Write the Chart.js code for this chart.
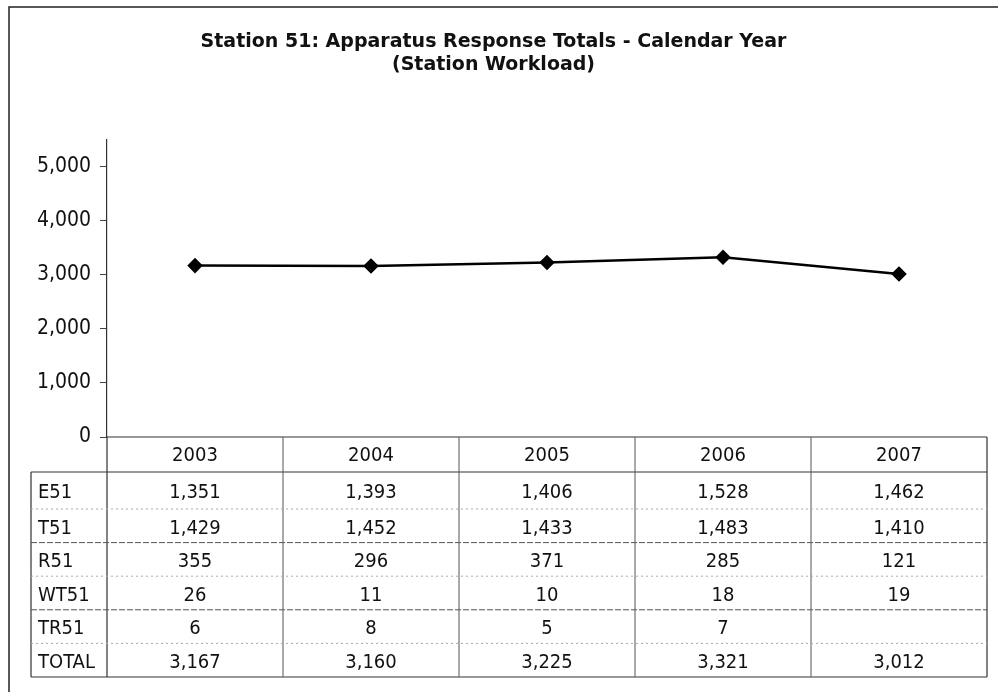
<!DOCTYPE html>
<html>
<head>
<meta charset="utf-8">
<title>Station 51 Apparatus Response Totals</title>
<script src="https://cdn.jsdelivr.net/npm/chart.js@4"></script>
<style>
    html, body { margin: 0; padding: 0; background: #fff; }
    #wrap { width: 998px; height: 692px; }
</style>
</head>
<body>
<div id="wrap"><canvas id="stationChart" width="998" height="692"></canvas></div>
<script>
const years = ['2003', '2004', '2005', '2006', '2007'];
const rowLabels = ['E51', 'T51', 'R51', 'WT51', 'TR51', 'TOTAL'];
const e51 = [1351, 1393, 1406, 1528, 1462];
const t51 = [1429, 1452, 1433, 1483, 1410];
const r51 = [355, 296, 371, 285, 121];
const wt51 = [26, 11, 10, 18, 19];
const tr51 = [6, 8, 5, 7, null];
const totals = [3167, 3160, 3225, 3321, 3012];
const yTicks = [0, 1000, 2000, 3000, 4000, 5000];
const yMax = 5500;

const tableRows = [e51, t51, r51, wt51, tr51, totals];
const FONT = '"DejaVu Sans Condensed", "Liberation Sans", sans-serif';
const TITLE_FONT = '"DejaVu Sans", sans-serif';

function fmt(v) {
    return v === null ? '' : v.toLocaleString('en-US');
}

// frame around the chart (left + top edges visible in the scan)
const framePlugin = {
    id: 'frame',
    beforeDraw(chart) {
        const ctx = chart.ctx;
        ctx.save();
        ctx.fillStyle = '#fff';
        ctx.fillRect(0, 0, chart.width, chart.height);
        ctx.strokeStyle = '#222';
        ctx.lineWidth = 1.5;
        ctx.beginPath();
        ctx.moveTo(9, chart.height);
        ctx.lineTo(9, 7);
        ctx.lineTo(chart.width, 7);
        ctx.stroke();
        ctx.restore();
    }
};

// data table under the plot, columns follow the x scale
const tablePlugin = {
    id: 'dataTable',
    afterDraw(chart) {
        const ctx = chart.ctx;
        const x = chart.scales.x;
        const area = chart.chartArea;
        const colW = x.getPixelForValue(1) - x.getPixelForValue(0);
        const left = area.left;
        const right = area.right;
        const labelLeft = 31;
        const headTop = area.bottom;
        const headH = 35;
        const bodyTop = headTop + headH;
        const firstRowH = 37;
        const rowH = 33.6;
        const rowTop = r => (r === 0 ? bodyTop : bodyTop + firstRowH + (r - 1) * rowH);
        const bodyBottom = rowTop(rowLabels.length);

        ctx.save();
        ctx.strokeStyle = '#333';
        ctx.lineWidth = 1.2;

        // header top (the x axis) and body box
        ctx.beginPath();
        ctx.moveTo(left, headTop); ctx.lineTo(right, headTop);
        ctx.moveTo(labelLeft, bodyTop); ctx.lineTo(right, bodyTop);
        ctx.moveTo(labelLeft, bodyBottom); ctx.lineTo(right, bodyBottom);
        ctx.moveTo(labelLeft, bodyTop); ctx.lineTo(labelLeft, bodyBottom);
        ctx.moveTo(right, headTop); ctx.lineTo(right, bodyBottom);
        ctx.moveTo(left, headTop); ctx.lineTo(left, bodyBottom);
        ctx.stroke();

        // column separators
        ctx.strokeStyle = '#555';
        ctx.lineWidth = 1;
        for (let i = 1; i < years.length; i++) {
            const cx = x.getPixelForValue(i) - colW / 2;
            ctx.beginPath();
            ctx.moveTo(cx, headTop);
            ctx.lineTo(cx, bodyBottom);
            ctx.stroke();
        }

        // row separators, darker between pairs
        for (let r = 1; r < rowLabels.length; r++) {
            const ry = rowTop(r);
            if (r % 2 === 0) {
                ctx.strokeStyle = '#555';
                ctx.setLineDash([6, 2]);
            } else {
                ctx.strokeStyle = '#aaa';
                ctx.setLineDash([2, 3]);
            }
            ctx.beginPath();
            ctx.moveTo(labelLeft, ry);
            ctx.lineTo(right, ry);
            ctx.stroke();
        }
        ctx.setLineDash([]);

        // text
        ctx.fillStyle = '#111';
        ctx.font = '20px ' + FONT;
        ctx.textBaseline = 'middle';
        ctx.textAlign = 'center';
        years.forEach((yr, i) => {
            ctx.fillText(yr, x.getPixelForValue(i), headTop + headH / 2 + 1);
        });
        rowLabels.forEach((lab, r) => {
            const cy = (rowTop(r) + rowTop(r + 1)) / 2 + 2.5;
            ctx.textAlign = 'left';
            ctx.fillText(lab, labelLeft + 7, cy);
            ctx.textAlign = 'center';
            tableRows[r].forEach((v, i) => {
                ctx.fillText(fmt(v), x.getPixelForValue(i), cy);
            });
        });
        ctx.restore();
    }
};

const ctx = document.getElementById('stationChart').getContext('2d');
new Chart(ctx, {
    type: 'line',
    data: {
        labels: years,
        datasets: [{
            label: 'TOTAL',
            data: totals,
            borderColor: '#000',
            backgroundColor: '#000',
            borderWidth: 2.5,
            pointStyle: 'rectRot',
            pointRadius: 6,
            pointHoverRadius: 6,
            tension: 0
        }]
    },
    options: {
        responsive: false,
        animation: false,
        layout: {
            padding: { left: 0, right: 11, top: 0, bottom: 255 }
        },
        plugins: {
            legend: { display: false },
            tooltip: { enabled: false },
            title: {
                display: true,
                text: ['Station 51: Apparatus Response Totals - Calendar Year', '(Station Workload)'],
                color: '#111',
                font: { family: TITLE_FONT, size: 19, weight: 'bold', lineHeight: 1.22 },
                padding: { top: 30, bottom: 63 }
            }
        },
        scales: {
            x: {
                display: false,
                offset: true
            },
            y: {
                min: 0,
                max: yMax,
                afterBuildTicks(scale) {
                    scale.ticks = yTicks.map(v => ({ value: v }));
                },
                afterFit(scale) {
                    scale.width = 107;
                },
                ticks: {
                    autoSkip: false,
                    color: '#111',
                    padding: 9,
                    font: { family: FONT, size: 21 },
                    callback: v => v.toLocaleString('en-US')
                },
                grid: {
                    drawOnChartArea: false,
                    tickLength: 7,
                    color: '#444'
                },
                border: { color: '#333', width: 1.2 }
            }
        }
    },
    plugins: [framePlugin, tablePlugin]
});
</script>
</body>
</html>
